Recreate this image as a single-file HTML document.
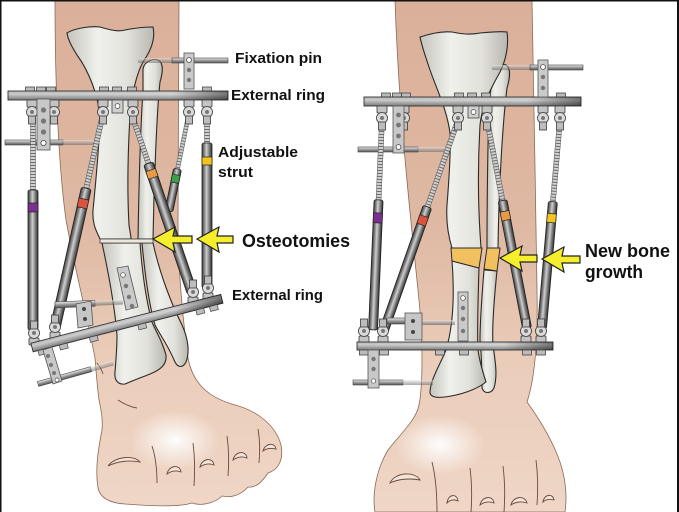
<!DOCTYPE html>
<html><head><meta charset="utf-8">
<style>
html,body{margin:0;padding:0;background:#fff;}
svg{display:block;}
text{font-family:"Liberation Sans",Arial,sans-serif;font-weight:bold;fill:#111;}
</style></head><body>
<svg width="679" height="512" viewBox="0 0 679 512" xmlns="http://www.w3.org/2000/svg">
<defs>
 <linearGradient id="skin" x1="0" y1="0" x2="0" y2="1">
  <stop offset="0" stop-color="#dbb09a"/>
  <stop offset="0.45" stop-color="#dfb9a3"/>
  <stop offset="0.7" stop-color="#eaccb9"/>
  <stop offset="1" stop-color="#efd6c6"/>
 </linearGradient>
 <radialGradient id="hl" cx="0.5" cy="0.5" r="0.5">
  <stop offset="0" stop-color="#ffffff" stop-opacity="0.95"/>
  <stop offset="1" stop-color="#ffffff" stop-opacity="0"/>
 </radialGradient>
 <linearGradient id="bone" x1="0" y1="0" x2="1" y2="0">
  <stop offset="0" stop-color="#c4c4bc"/>
  <stop offset="0.35" stop-color="#f0f0ec"/>
  <stop offset="0.7" stop-color="#e2e2dc"/>
  <stop offset="1" stop-color="#b8b8b0"/>
 </linearGradient>
 <linearGradient id="tube" x1="0" y1="0" x2="1" y2="0">
  <stop offset="0" stop-color="#3a3a3a"/>
  <stop offset="0.3" stop-color="#9a9a9a"/>
  <stop offset="0.45" stop-color="#cfcfcf"/>
  <stop offset="0.75" stop-color="#767676"/>
  <stop offset="1" stop-color="#2e2e2e"/>
 </linearGradient>
 <linearGradient id="ringG" x1="0" y1="0" x2="0" y2="1">
  <stop offset="0" stop-color="#bdbdbd"/>
  <stop offset="0.35" stop-color="#d4d4d4"/>
  <stop offset="1" stop-color="#7e7e7e"/>
 </linearGradient>
 <linearGradient id="ringShade" x1="0" y1="0" x2="1" y2="0">
  <stop offset="0" stop-color="#000" stop-opacity="0.05"/>
  <stop offset="0.75" stop-color="#000" stop-opacity="0"/>
  <stop offset="1" stop-color="#000" stop-opacity="0.45"/>
 </linearGradient>
 <linearGradient id="rodG" x1="0" y1="0" x2="0" y2="1">
  <stop offset="0" stop-color="#eeeeee"/>
  <stop offset="0.5" stop-color="#9a9a9a"/>
  <stop offset="1" stop-color="#555"/>
 </linearGradient>
 <pattern id="thr" width="4" height="3" patternUnits="userSpaceOnUse">
  <rect width="4" height="3" fill="#d2d2d2"/><rect y="2" width="4" height="1" fill="#6a6a6a"/>
 </pattern>
 <g id="hj">
  <rect x="-5" y="0" width="10" height="7" rx="1" fill="#c4c4c4" stroke="#3a3a3a" stroke-width="0.8"/>
  <circle cx="0" cy="12" r="5.5" fill="#dadada" stroke="#3a3a3a" stroke-width="0.8"/>
  <circle cx="0" cy="12" r="2" fill="#777"/>
  <rect x="-3.5" y="16" width="7" height="8" fill="#bdbdbd" stroke="#3a3a3a" stroke-width="0.8"/>
 </g>
 <g id="nut"><rect x="-4.5" y="0" width="9" height="5" fill="#bcbcbc" stroke="#444" stroke-width="0.8"/></g>
</defs>

<rect width="679" height="512" fill="#fff"/>

<!-- ================= LEFT FIGURE ================= -->
<path d="M55,0 L179,0 C179,70 178,150 178,220 C178,270 183,320 188,358 C193,385 210,398 235,405 C258,411 276,426 281,445 C284,460 278,470 268,473 C262,482 256,488 248,487 C240,496 230,498 222,496 C214,504 200,506 192,503 C180,507 150,506 125,504 C110,503 100,498 98,488 C95,470 98,450 102,430 C103,418 101,410 99,400 C97,385 96,370 95,358 C88,320 75,270 66,220 C59,170 55,90 55,0 Z" fill="url(#skin)" stroke="#8a6a58" stroke-width="0.8"/>
<ellipse cx="175" cy="440" rx="45" ry="30" fill="url(#hl)"/>
<g fill="none" stroke="#6b4a3a" stroke-width="0.9">
 <path d="M152,446 C156,458 157,470 157,483"/>
 <path d="M193,443 C195,458 195,472 194,486"/>
 <path d="M227,436 C229,450 229,464 228,476"/>
 <path d="M258,429 C260,440 260,452 259,463"/>
 <path d="M97,363 C100,367 102,370 103,374"/>
 <path d="M118,400 C124,404 130,407 137,408"/>
 <path d="M108,466 C115,456 135,455 140,462 C130,460 118,461 108,466 Z" fill="#f3e3d8"/>
 <path d="M167,474 C169,465 180,464 181,472 C176,470 171,471 167,474 Z" fill="#f3e3d8"/>
 <path d="M200,467 C202,458 213,457 214,465 C209,463 204,464 200,467 Z" fill="#f3e3d8"/>
 <path d="M233,460 C235,451 246,450 247,458 C242,456 237,457 233,460 Z" fill="#f3e3d8"/>
 <path d="M263,451 C265,443 275,442 276,449 C271,448 267,448 263,451 Z" fill="#f3e3d8"/>
</g>

<!-- bones left -->
<g stroke="#2a2a2a" stroke-width="1.1" fill="url(#bone)">
 <path d="M143,72 C142,64 150,58 158,60 C164,63 163,72 160,82 C157,110 154,180 153,239 L138,239 C139,180 141,120 143,90 Z"/>
 <path d="M67,33 C75,28 90,26 100,27 C110,30 118,32 125,30 C135,28 145,27 153,27 C156,40 150,52 143,62 C136,75 132,95 130,115 C128,150 127,190 129,225 C130,232 131,236 131,239 L100,239 C97,232 92,225 93,210 C96,180 99,150 100,120 C99,95 88,70 77,55 C72,47 68,40 67,33 Z"/>
 <path d="M142,243 L153,243 C160,275 172,305 182,325 C188,338 190,352 186,362 C183,368 178,368 175,362 C168,345 160,335 155,325 C149,305 145,275 142,243 Z"/>
 <path d="M102,243 L140,243 C142,270 146,300 152,322 C156,332 162,340 166,355 C167,365 160,370 150,374 C140,378 132,381 125,384 C118,385 114,380 115,372 C116,360 117,345 117,335 C115,310 110,280 102,243 Z"/>
</g>
<rect x="100" y="239" width="53" height="4" fill="#ece6de" stroke="#2a2a2a" stroke-width="0.7"/>

<!-- pins left -->
<rect x="138" y="58" width="36" height="5" fill="url(#rodG)" opacity="0.5"/>
<rect x="172" y="58" width="56" height="5" fill="url(#rodG)" stroke="#444" stroke-width="0.6"/>
<rect x="5" y="140" width="58" height="5" fill="url(#rodG)" stroke="#444" stroke-width="0.6"/>
<rect x="62" y="140" width="33" height="5" fill="url(#rodG)" opacity="0.5"/>

<!-- top ring nuts -->
<use href="#nut" x="30" y="87"/><use href="#nut" x="41" y="87"/><use href="#nut" x="51" y="87"/>
<use href="#nut" x="104" y="87"/><use href="#nut" x="117" y="87"/><use href="#nut" x="132" y="87"/>
<use href="#nut" x="207" y="87"/>
<!-- top ring left -->
<rect x="8" y="91" width="220" height="9" fill="url(#ringG)" stroke="#333" stroke-width="0.9"/>
<rect x="8" y="91" width="220" height="9" fill="url(#ringShade)"/>
<!-- fixation plate -->
<rect x="184" y="53" width="10" height="36" fill="#cacaca" stroke="#555" stroke-width="0.8"/>
<circle cx="189" cy="60" r="2.4" fill="#fff" stroke="#444" stroke-width="0.8"/>
<circle cx="189" cy="70" r="2.2" fill="#777"/><circle cx="189" cy="80" r="2.2" fill="#777"/>

<!-- struts left -->
<g transform="translate(188,118) rotate(11.6)">
 <rect x="-2" y="0" width="4" height="52" fill="url(#thr)" stroke="#555" stroke-width="0.5"/>
 <rect x="-4" y="52" width="8" height="43" rx="2" fill="url(#tube)" stroke="#222" stroke-width="0.8"/>
 <rect x="-4" y="58" width="8" height="8" fill="#3aa04a" stroke="#222" stroke-width="0.7"/>
</g>
<g transform="translate(33,118)">
 <rect x="-2.5" y="0" width="5" height="72" fill="url(#thr)" stroke="#555" stroke-width="0.5"/>
 <rect x="-5" y="72" width="10" height="140" rx="2" fill="url(#tube)" stroke="#222" stroke-width="0.8"/>
 <rect x="-5" y="85" width="10" height="9" fill="#7b2f8e" stroke="#222" stroke-width="0.7"/>
</g>
<g transform="translate(102,118) rotate(12.6)">
 <rect x="-2.5" y="0" width="5" height="72" fill="url(#thr)" stroke="#555" stroke-width="0.5"/>
 <rect x="-5" y="72" width="10" height="143" rx="2" fill="url(#tube)" stroke="#222" stroke-width="0.8"/>
 <rect x="-5" y="83" width="10" height="9" fill="#d9533f" stroke="#222" stroke-width="0.7"/>
</g>
<g transform="translate(133,118) rotate(-18.7)">
 <rect x="-2.5" y="0" width="5" height="50" fill="url(#thr)" stroke="#555" stroke-width="0.5"/>
 <rect x="-5" y="48" width="10" height="136" rx="2" fill="url(#tube)" stroke="#222" stroke-width="0.8"/>
 <rect x="-5" y="55" width="10" height="8" fill="#e89a45" stroke="#222" stroke-width="0.7"/>
</g>
<g transform="translate(207,118)">
 <rect x="-2.5" y="0" width="5" height="26" fill="url(#thr)" stroke="#555" stroke-width="0.5"/>
 <rect x="-5" y="25" width="10" height="145" rx="2" fill="url(#tube)" stroke="#222" stroke-width="0.8"/>
 <rect x="-5" y="39" width="10" height="8" fill="#f3c41c" stroke="#222" stroke-width="0.7"/>
</g>
<!-- top hinges left -->
<use href="#hj" x="32" y="100"/><use href="#hj" x="54" y="100"/>
<use href="#hj" x="103" y="100"/><use href="#hj" x="133" y="100"/>
<use href="#hj" x="189" y="100"/><use href="#hj" x="207" y="100"/>
<rect x="112" y="100" width="11" height="13" fill="#cfcfcf" stroke="#444" stroke-width="0.8"/>
<circle cx="117.5" cy="106" r="2.4" fill="#fff" stroke="#444" stroke-width="0.7"/>
<!-- left plate -->
<rect x="37" y="99" width="13" height="51" fill="#c8c8c8" stroke="#555" stroke-width="0.8"/>
<circle cx="43.5" cy="110" r="2.6" fill="#777"/><circle cx="43.5" cy="121" r="2.6" fill="#777"/>
<circle cx="43.5" cy="132" r="2.6" fill="#777"/><circle cx="43.5" cy="143" r="2.6" fill="#fff" stroke="#444" stroke-width="0.8"/>

<!-- lower plate on tibia left -->
<polygon points="117,268 128,266 138,307 126,310" fill="#cacaca" stroke="#555" stroke-width="0.8"/>
<circle cx="123" cy="275" r="2.3" fill="#fff" stroke="#444" stroke-width="0.7"/>
<circle cx="126" cy="286" r="2.2" fill="#777"/><circle cx="129" cy="297" r="2.2" fill="#777"/><circle cx="132" cy="306" r="2.2" fill="#777"/>
<!-- lower pin left -->
<g transform="translate(55,305) rotate(-2.5)">
 <rect x="0" y="-3" width="40" height="6" fill="url(#rodG)" stroke="#444" stroke-width="0.6"/>
 <rect x="38" y="-2.5" width="30" height="5" fill="url(#rodG)" opacity="0.55"/>
</g>
<polygon points="76,304 91,301 93,325 78,328" fill="#c6c6c6" stroke="#555" stroke-width="0.8"/>
<circle cx="84" cy="309" r="2" fill="#444"/><circle cx="85" cy="319" r="2" fill="#444"/>

<!-- lower joints left -->
<use href="#hj" transform="translate(34,345) scale(1,-1)"/>
<use href="#hj" transform="translate(55,339) scale(1,-1)"/>
<use href="#hj" transform="translate(193,304) scale(1,-1)"/>
<use href="#hj" transform="translate(208,300) scale(1,-1)"/>
<!-- lower ring left -->
<g transform="translate(32,347.5) rotate(-14.4)">
 <rect x="0" y="-4.5" width="196" height="9" fill="url(#ringG)" stroke="#333" stroke-width="0.9"/>
 <rect x="0" y="-4.5" width="196" height="9" fill="url(#ringShade)"/>
 <rect x="5" y="4.5" width="8" height="5" fill="#bcbcbc" stroke="#444" stroke-width="0.7"/>
 <rect x="27" y="4.5" width="8" height="5" fill="#bcbcbc" stroke="#444" stroke-width="0.7"/>
 <rect x="58" y="4.5" width="8" height="5" fill="#bcbcbc" stroke="#444" stroke-width="0.7"/>
 <rect x="108" y="4.5" width="8" height="5" fill="#bcbcbc" stroke="#444" stroke-width="0.7"/>
 <rect x="168" y="4.5" width="8" height="5" fill="#bcbcbc" stroke="#444" stroke-width="0.7"/>
 <rect x="182" y="4.5" width="8" height="5" fill="#bcbcbc" stroke="#444" stroke-width="0.7"/>
</g>
<!-- lowest plate & pin left -->
<g transform="translate(38,384) rotate(-15.6)">
 <rect x="0" y="-2.5" width="55" height="5" fill="url(#rodG)" stroke="#444" stroke-width="0.6"/>
 <rect x="55" y="-2.5" width="23" height="5" fill="url(#rodG)" opacity="0.5"/>
</g>
<polygon points="43,350 52,347 62,381 53,384" fill="#c8c8c8" stroke="#555" stroke-width="0.8"/>
<circle cx="48" cy="356" r="2" fill="#777"/><circle cx="51" cy="365" r="2" fill="#777"/>
<circle cx="54" cy="373" r="2" fill="#777"/><circle cx="57" cy="380" r="2" fill="#fff" stroke="#444" stroke-width="0.7"/>

<!-- arrows left -->
<g fill="#f4ee2c" stroke="#222" stroke-width="1.2" stroke-linejoin="miter">
 <path d="M153,239 L175,227 L173,236 L192,236 L192,243 L173,243 L175,252 Z"/>
 <path d="M197,239 L219,227 L217,236 L233,236 L233,243 L217,243 L219,252 Z"/>
</g>

<!-- labels left -->
<text x="235" y="63" font-size="14.5" textLength="87" lengthAdjust="spacingAndGlyphs">Fixation pin</text>
<text x="231" y="100" font-size="14.5" textLength="94" lengthAdjust="spacingAndGlyphs">External ring</text>
<text x="218" y="157" font-size="15" textLength="80" lengthAdjust="spacingAndGlyphs">Adjustable</text>
<text x="218" y="177" font-size="15" textLength="35" lengthAdjust="spacingAndGlyphs">strut</text>
<text x="242" y="247" font-size="18" textLength="108" lengthAdjust="spacingAndGlyphs">Osteotomies</text>
<text x="232" y="300" font-size="14.5" textLength="91" lengthAdjust="spacingAndGlyphs">External ring</text>

<!-- ================= RIGHT FIGURE ================= -->
<path d="M395,0 L532,0 C533,80 536,200 537,290 C538,340 535,378 527,402 C540,420 553,442 560,462 C566,480 567,498 565,512 L375,512 C372,495 376,470 388,450 C402,432 416,420 419,405 C423,385 423,340 419,300 C412,230 399,120 395,0 Z" fill="url(#skin)" stroke="#8a6a58" stroke-width="0.8"/>
<ellipse cx="440" cy="445" rx="45" ry="30" fill="url(#hl)"/>
<g fill="none" stroke="#6b4a3a" stroke-width="0.9">
 <path d="M432,462 C436,478 437,495 437,512"/>
 <path d="M470,468 C472,484 472,498 471,512"/>
 <path d="M503,466 C505,482 505,498 504,512"/>
 <path d="M536,460 C538,476 538,492 537,505"/>
 <path d="M390,483 C395,472 415,471 420,480 C410,478 398,479 390,483 Z" fill="#f3e3d8"/>
 <path d="M447,503 C448,494 457,493 458,501 C454,499 450,500 447,503 Z" fill="#f3e3d8"/>
 <path d="M480,505 C482,496 493,495 494,503 C489,501 484,502 480,505 Z" fill="#f3e3d8"/>
 <path d="M511,505 C513,496 525,495 527,503 C521,501 515,502 511,505 Z" fill="#f3e3d8"/>
 <path d="M543,502 C544,494 553,493 554,500 C550,499 546,499 543,502 Z" fill="#f3e3d8"/>
</g>

<!-- bones right -->
<g stroke="#2a2a2a" stroke-width="1.1" fill="url(#bone)">
 <path d="M493,78 C493,70 500,63 506,65 C511,68 510,78 507,88 C503,120 499,180 498,248 L487,248 C487,190 488,140 489,100 Z"/>
 <path d="M420,37 C432,33 442,31 452,32 C462,34 470,35 480,33 C490,32 500,31 507,32 C509,45 506,60 500,72 C490,90 482,105 480,125 C478,160 478,200 480,233 L481,248 L452,248 C448,235 446,220 447,205 C449,180 451,150 450,133 C447,110 437,90 430,70 C426,58 422,47 420,37 Z"/>
 <path d="M484,270 L497,271 C494,300 492,330 493,345 C495,360 498,375 494,388 C491,394 484,394 482,388 C482,370 481,350 480,340 C480,320 482,295 484,270 Z"/>
 <path d="M452,261 L479,268 C478,300 477,330 478,350 C480,365 484,375 486,382 C476,390 460,395 445,397 C437,398 431,397 430,393 C430,380 440,365 446,350 C452,330 455,300 452,261 Z"/>
</g>
<g fill="#f1c160" stroke="#2a2a2a" stroke-width="1">
 <polygon points="451,248 482,248 479,268 452,261"/>
 <polygon points="487,248 500,248 497,271 484,269"/>
</g>

<!-- pins right -->
<rect x="492" y="65" width="40" height="5" fill="url(#rodG)" opacity="0.5"/>
<rect x="530" y="65" width="53" height="5" fill="url(#rodG)" stroke="#444" stroke-width="0.6"/>
<rect x="358" y="147" width="60" height="5" fill="url(#rodG)" stroke="#444" stroke-width="0.6"/>
<rect x="417" y="147" width="30" height="5" fill="url(#rodG)" opacity="0.5"/>

<use href="#nut" x="386" y="93"/><use href="#nut" x="397" y="93"/><use href="#nut" x="406" y="93"/>
<use href="#nut" x="459" y="93"/><use href="#nut" x="472" y="93"/><use href="#nut" x="486" y="93"/>
<use href="#nut" x="561" y="93"/>
<rect x="364" y="97" width="217" height="9" fill="url(#ringG)" stroke="#333" stroke-width="0.9"/>
<rect x="364" y="97" width="217" height="9" fill="url(#ringShade)"/>
<rect x="538" y="60" width="10" height="37" fill="#cacaca" stroke="#555" stroke-width="0.8"/>
<circle cx="543" cy="67" r="2.4" fill="#fff" stroke="#444" stroke-width="0.8"/>
<circle cx="543" cy="77" r="2.2" fill="#777"/><circle cx="543" cy="88" r="2.2" fill="#777"/>

<!-- struts right -->
<g transform="translate(382,120) rotate(2.45)">
 <rect x="-2.5" y="0" width="5" height="80" fill="url(#thr)" stroke="#555" stroke-width="0.5"/>
 <rect x="-4.5" y="80" width="9" height="130" rx="2" fill="url(#tube)" stroke="#222" stroke-width="0.8"/>
 <rect x="-4.5" y="93" width="9" height="10" fill="#7b2f8e" stroke="#222" stroke-width="0.7"/>
</g>
<g transform="translate(458,120) rotate(19.4)">
 <rect x="-2.5" y="0" width="5" height="92" fill="url(#thr)" stroke="#555" stroke-width="0.5"/>
 <rect x="-4.5" y="92" width="9" height="134" rx="2" fill="url(#tube)" stroke="#222" stroke-width="0.8"/>
 <rect x="-4.5" y="102" width="9" height="9" fill="#d9533f" stroke="#222" stroke-width="0.7"/>
</g>
<g transform="translate(487,120) rotate(-10.9)">
 <rect x="-2.5" y="0" width="5" height="82" fill="url(#thr)" stroke="#555" stroke-width="0.5"/>
 <rect x="-4.5" y="82" width="9" height="130" rx="2" fill="url(#tube)" stroke="#222" stroke-width="0.8"/>
 <rect x="-4.5" y="93" width="9" height="9" fill="#e89a45" stroke="#222" stroke-width="0.7"/>
</g>
<g transform="translate(560,120) rotate(4.95)">
 <rect x="-2.5" y="0" width="5" height="82" fill="url(#thr)" stroke="#555" stroke-width="0.5"/>
 <rect x="-4.5" y="82" width="9" height="127" rx="2" fill="url(#tube)" stroke="#222" stroke-width="0.8"/>
 <rect x="-4.5" y="94" width="9" height="9" fill="#f3c41c" stroke="#222" stroke-width="0.7"/>
</g>
<use href="#hj" x="382" y="106"/><use href="#hj" x="404" y="106"/>
<use href="#hj" x="458" y="106"/><use href="#hj" x="487" y="106"/>
<use href="#hj" x="543" y="106"/><use href="#hj" x="560" y="106"/>
<rect x="468" y="106" width="11" height="12" fill="#cfcfcf" stroke="#444" stroke-width="0.8"/>
<circle cx="473.5" cy="112" r="2.4" fill="#fff" stroke="#444" stroke-width="0.7"/>
<rect x="393" y="106" width="11" height="47" fill="#c8c8c8" stroke="#555" stroke-width="0.8"/>
<circle cx="398.5" cy="115" r="2.4" fill="#777"/><circle cx="398.5" cy="125" r="2.4" fill="#777"/>
<circle cx="398.5" cy="136" r="2.4" fill="#777"/><circle cx="398.5" cy="147" r="2.4" fill="#fff" stroke="#444" stroke-width="0.8"/>

<!-- lower right hardware -->
<rect x="458" y="292" width="10" height="49" fill="#cacaca" stroke="#555" stroke-width="0.8"/>
<circle cx="463" cy="298" r="2.3" fill="#fff" stroke="#444" stroke-width="0.7"/>
<circle cx="463" cy="308" r="2.2" fill="#777"/><circle cx="463" cy="319" r="2.2" fill="#777"/><circle cx="463" cy="331" r="2.2" fill="#777"/>
<rect x="387" y="318" width="35" height="6" fill="url(#rodG)" stroke="#444" stroke-width="0.6"/>
<rect x="420" y="320" width="35" height="5" fill="url(#rodG)" opacity="0.6"/>
<rect x="405" y="313" width="17" height="27" fill="#c6c6c6" stroke="#555" stroke-width="0.8"/>
<circle cx="413" cy="321" r="2" fill="#444"/><circle cx="413" cy="332" r="2" fill="#444"/>

<use href="#hj" transform="translate(364,343) scale(1,-1)"/>
<use href="#hj" transform="translate(383,343) scale(1,-1)"/>
<use href="#hj" transform="translate(526,343) scale(1,-1)"/>
<use href="#hj" transform="translate(541,343) scale(1,-1)"/>
<rect x="357" y="342" width="196" height="8" fill="url(#ringG)" stroke="#333" stroke-width="0.9"/>
<rect x="357" y="342" width="196" height="8" fill="url(#ringShade)"/>
<use href="#nut" x="364" y="350"/><use href="#nut" x="384" y="350"/>
<use href="#nut" x="440" y="350"/><use href="#nut" x="464" y="350"/>
<use href="#nut" x="527" y="350"/><use href="#nut" x="541" y="350"/>
<rect x="353" y="380" width="50" height="5" fill="url(#rodG)" stroke="#444" stroke-width="0.6"/>
<rect x="402" y="380" width="31" height="5" fill="url(#rodG)" opacity="0.5"/>
<rect x="368" y="350" width="11" height="38" fill="#c8c8c8" stroke="#555" stroke-width="0.8"/>
<circle cx="373.5" cy="359" r="2.2" fill="#777"/><circle cx="373.5" cy="369" r="2.2" fill="#777"/>
<circle cx="373.5" cy="381" r="2.2" fill="#fff" stroke="#444" stroke-width="0.7"/>

<!-- arrows right -->
<g fill="#f4ee2c" stroke="#222" stroke-width="1.2">
 <path d="M500,258 L522,246 L520,255 L537,255 L537,262 L520,262 L522,271 Z"/>
 <path d="M542,259 L564,247 L562,256 L580,256 L580,263 L562,263 L564,272 Z"/>
</g>
<text x="585" y="257" font-size="18" textLength="85" lengthAdjust="spacingAndGlyphs">New bone</text>
<text x="585" y="278" font-size="18" textLength="58" lengthAdjust="spacingAndGlyphs">growth</text>

<!-- border -->
<rect x="0" y="0" width="679" height="1.5" fill="#111"/>
<rect x="0" y="0" width="1.5" height="512" fill="#111"/>
<rect x="677" y="0" width="2" height="512" fill="#111"/>
</svg>
</body></html>
